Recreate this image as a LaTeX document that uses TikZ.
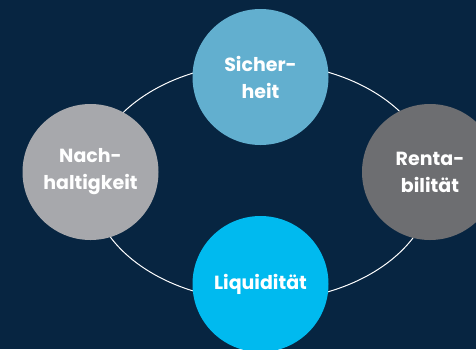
\documentclass[tikz,border=0pt]{standalone}
\usepackage{fontspec}
\setmainfont{Poppins}
\usepackage{tikz}

\definecolor{hintergrund}{HTML}{072541}
\definecolor{sicherblau}{HTML}{62AFCF}
\definecolor{nachgrau}{HTML}{A7A8AC}
\definecolor{rentagrau}{HTML}{6D6E71}
\definecolor{liquicyan}{HTML}{00BAEF}

\tikzset{kreis/.style={circle, minimum size=136pt, inner sep=0pt, text=white,
  font=\fontsize{19}{27}\selectfont\bfseries, align=center}}

\begin{document}
\begin{tikzpicture}[x=1pt,y=-1pt]
	\useasboundingbox (0,0) rectangle (476,349);
	\fill[hintergrund] (0,0) rectangle (476,349);
	\clip (0,0) rectangle (476,349);
	%% Ring
	\coordinate (mitte) at (262,182);
	\draw[white, line width=1pt] (mitte) ellipse [x radius=171, y radius=119];
	%% Kreise
	\node[kreis, fill=sicherblau] (sicher) at (260.5,77) {Sicher-\\heit}; % oben
	\node[kreis, fill=nachgrau] (nach) at (90.5,172) {Nach-\\haltigkeit}; % links
	\node[kreis, fill=rentagrau] (renta) at (430,172) {Renta-\\bilität}; % rechts
	\node[kreis, fill=liquicyan] (liqui) at (260.5,284) {Liquidität}; % unten
\end{tikzpicture}
\end{document}
